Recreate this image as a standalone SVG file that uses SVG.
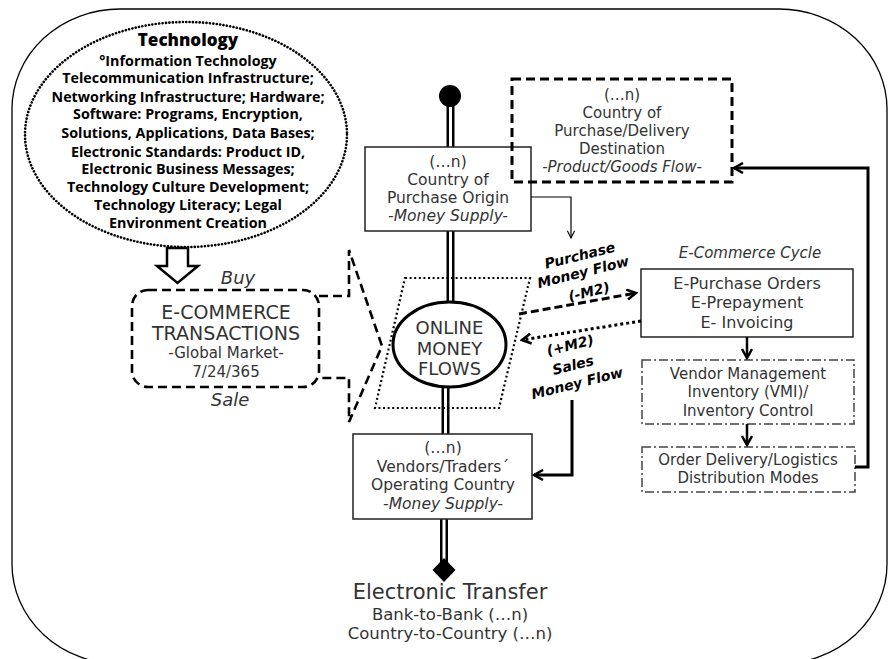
<svg xmlns="http://www.w3.org/2000/svg" width="888" height="659" viewBox="0 0 888 659">
<style>
.t{font-family:"DejaVu Sans","Liberation Sans",sans-serif;fill:#333;text-anchor:middle}
.i{font-style:italic}
.tb{font-family:"Open Sans",Lato,sans-serif;font-weight:700;fill:#000;text-anchor:middle;font-size:14.3px}
.lb{font-family:"DejaVu Sans",sans-serif;font-weight:700;font-style:italic;fill:#000;text-anchor:middle;font-size:14px}
.box{fill:#fff;stroke:#222;stroke-width:1.5}
.dd{fill:none;stroke:#444;stroke-width:1.5;stroke-dasharray:9,3,2,3}
.spO{stroke:#000;stroke-width:8;fill:none}
.spI{stroke:#fff;stroke-width:3;fill:none}
.thick{fill:none;stroke:#000;stroke-width:3}
</style>
<defs>
<marker id="ah" viewBox="0 0 12 12" refX="10" refY="6" markerWidth="12" markerHeight="12" markerUnits="userSpaceOnUse" orient="auto">
<path d="M1,1 L10,6 L1,11" fill="none" stroke="#000" stroke-width="2.5"/>
</marker>
<marker id="ahs" viewBox="0 0 10 10" refX="9" refY="5" markerWidth="9" markerHeight="9" markerUnits="userSpaceOnUse" orient="auto">
<path d="M1,1 L9,5 L1,9" fill="none" stroke="#000" stroke-width="1.2"/>
</marker>
</defs>
<rect width="888" height="659" fill="#fff"/>
<rect x="12" y="9" width="875" height="655" rx="108" ry="100" fill="none" stroke="#000" stroke-width="1.3"/>

<g id="spine">
<line class="spO" x1="450.5" y1="100" x2="450.5" y2="147"/>
<line class="spI" x1="450.5" y1="107" x2="450.5" y2="147"/>
<line class="spO" x1="450.5" y1="231" x2="450.5" y2="303"/>
<line class="spI" x1="450.5" y1="231" x2="450.5" y2="303"/>
<line class="spO" x1="445.5" y1="386" x2="445.5" y2="434"/>
<line class="spI" x1="445.5" y1="386" x2="445.5" y2="434"/>
<line class="spO" x1="444" y1="519" x2="444" y2="562"/>
<line class="spI" x1="444" y1="519" x2="444" y2="561"/>
<circle cx="450" cy="96" r="11" fill="#000"/>
<polygon points="444,558 455.5,570 444,582 432.5,570" fill="#000"/>
</g>

<g id="technology">
<ellipse cx="186" cy="134.5" rx="161" ry="112.5" fill="none" stroke="#000" stroke-width="2.6" stroke-dasharray="0.1,3.3" stroke-linecap="round"/>
<text x="188" y="46" class="tb" style="font-size:17px;font-weight:800">Technology</text>
<text class="tb"><tspan x="188" y="65.5">°Information Technology</tspan><tspan x="188" y="83.3">Telecommunication Infrastructure;</tspan><tspan x="188" y="101.6">Networking Infrastructure; Hardware;</tspan><tspan x="188" y="119.4">Software: Programs, Encryption,</tspan><tspan x="188" y="137.5">Solutions, Applications, Data Bases;</tspan><tspan x="188" y="156.5">Electronic Standards: Product ID,</tspan><tspan x="188" y="174">Electronic Business  Messages;</tspan><tspan x="188" y="192">Technology Culture Development;</tspan><tspan x="188" y="210">Technology Literacy; Legal</tspan><tspan x="188" y="228">Environment Creation</tspan></text>
<polygon points="167,248 188,248 188,266 198,266 177.5,283 157,266 167,266" fill="#fff" stroke="#000" stroke-width="2.5" stroke-linejoin="miter"/>
</g>

<g id="ecommerce">
<text x="238" y="284" class="t i" style="font-size:18px">Buy</text>
<rect x="132" y="290" width="187" height="97" rx="16" fill="none" stroke="#000" stroke-width="2.6" stroke-dasharray="9,5"/>
<text class="t" style="font-size:19px"><tspan x="226" y="319">E-COMMERCE</tspan><tspan x="226" y="340">TRANSACTIONS</tspan></text>
<text class="t" style="font-size:15px"><tspan x="226" y="358">-Global Market-</tspan><tspan x="226" y="377">7/24/365</tspan></text>
<text x="230" y="406" class="t i" style="font-size:18px">Sale</text>
<path d="M319,296 H349 V250 L382,346 L349,422 V378 H319" fill="none" stroke="#000" stroke-width="2.6" stroke-dasharray="9,5"/>
</g>

<g id="origin">
<rect x="365" y="147" width="166" height="84" class="box"/>
<text class="t" style="font-size:15.5px"><tspan x="448" y="167">(…n)</tspan><tspan x="448" y="184.5">Country of</tspan><tspan x="448" y="202.5">Purchase Origin</tspan><tspan x="448" y="221" font-style="italic">-Money Supply-</tspan></text>
</g>

<g id="destination">
<rect x="512" y="79" width="220" height="103" fill="none" stroke="#000" stroke-width="3" stroke-dasharray="9,5"/>
<text class="t" style="font-size:15px"><tspan x="622" y="100">(…n)</tspan><tspan x="622" y="117.5">Country of</tspan><tspan x="622" y="135.5">Purchase/Delivery</tspan><tspan x="622" y="153.5">Destination</tspan><tspan x="622" y="172" font-style="italic">-Product/Goods Flow-</tspan></text>
</g>

<g id="online">
<path d="M405,278 H530 L499,408 H375 Z" fill="none" stroke="#000" stroke-width="2.2" stroke-dasharray="2,2.6"/>
<ellipse cx="449.5" cy="344.5" rx="56.5" ry="42.5" fill="#fff" stroke="#000" stroke-width="3"/>
<text class="t" style="font-size:18px"><tspan x="449.5" y="333.5">ONLINE</tspan><tspan x="449.5" y="354.5">MONEY</tspan><tspan x="449.5" y="375">FLOWS</tspan></text>
</g>

<g id="vendors">
<rect x="353" y="434" width="179" height="85" class="box"/>
<text class="t" style="font-size:15.5px"><tspan x="443" y="453">(…n)</tspan><tspan x="443" y="472">Vendors/Traders´</tspan><tspan x="443" y="490">Operating Country</tspan><tspan x="443" y="508.5" font-style="italic">-Money Supply-</tspan></text>
</g>

<g id="cycle">
<text x="750" y="258" class="t i" style="font-size:15px">E-Commerce Cycle</text>
</g>

<g id="epurchase">
<rect x="641" y="269" width="212" height="68" class="box"/>
<text class="t" style="font-size:16px"><tspan x="747" y="289">E-Purchase Orders</tspan><tspan x="747" y="308">E-Prepayment</tspan><tspan x="747" y="327.5">E- Invoicing</tspan></text>
</g>

<g id="vmi">
<rect x="642" y="360" width="212" height="64" class="dd"/>
<text class="t" style="font-size:15px"><tspan x="748" y="378.5">Vendor Management</tspan><tspan x="748" y="397">Inventory (VMI)/</tspan><tspan x="748" y="415.5">Inventory Control</tspan></text>
</g>

<g id="delivery">
<rect x="642" y="447" width="213" height="45" class="dd"/>
<text class="t" style="font-size:15px"><tspan x="748" y="465">Order Delivery/Logistics</tspan><tspan x="748" y="483">Distribution Modes</tspan></text>
</g>

<g id="connectors">
<path d="M531,197 H571 V238" fill="none" stroke="#000" stroke-width="1.2" marker-end="url(#ahs)"/>
<path d="M519,314 L636,293" fill="none" stroke="#000" stroke-width="3" stroke-dasharray="8,4" marker-end="url(#ah)"/>
<path d="M641,321 L522,340" fill="none" stroke="#000" stroke-width="3" stroke-dasharray="3,3" marker-end="url(#ah)"/>
<path d="M572,400 V475 H534" class="thick" marker-end="url(#ah)"/>
<path d="M855,467 H868 V168 H734" class="thick" marker-end="url(#ah)"/>
<path d="M747,337 V358" fill="none" stroke="#000" stroke-width="2.5" marker-end="url(#ah)"/>
<path d="M747,424 V445" fill="none" stroke="#000" stroke-width="2.5" marker-end="url(#ah)"/>
</g>

<g id="purchase-label" transform="translate(583,272) rotate(-14)">
<text class="lb"><tspan x="1" y="-12">Purchase</tspan><tspan x="0" y="5">Money Flow</tspan><tspan x="1" y="25.5">(-M2)</tspan></text>
</g>
<g id="sales-label" transform="translate(573,365) rotate(-14)">
<text class="lb"><tspan x="2" y="-15">(+M2)</tspan><tspan x="0" y="5">Sales</tspan><tspan x="-0.5" y="23.5">Money Flow</tspan></text>
</g>

<g id="transfer">
<text x="450" y="599" class="t" style="font-size:21px">Electronic Transfer</text>
<text class="t" style="font-size:16.5px"><tspan x="450" y="619.5">Bank-to-Bank (…n)</tspan><tspan x="450" y="638.5">Country-to-Country (…n)</tspan></text>
</g>
</svg>
